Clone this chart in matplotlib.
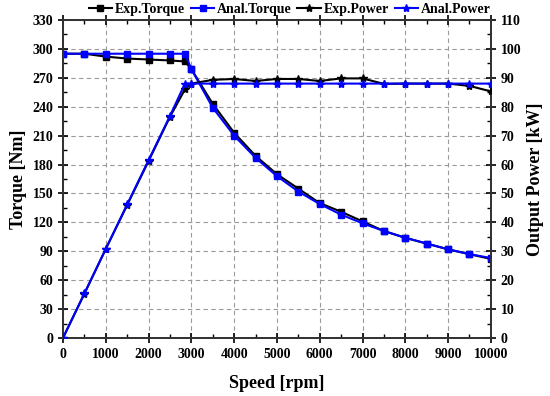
import numpy as np
import matplotlib
matplotlib.use("Agg")
import matplotlib.pyplot as plt
from matplotlib.ticker import MultipleLocator

plt.rcParams['font.family'] = ['Liberation Serif', 'DejaVu Serif']
plt.rcParams['font.weight'] = 'bold'

# speed points [rpm]
speed = [0, 500, 1000, 1500, 2000, 2500, 2850, 3000, 3500, 4000, 4500, 5000,
         5500, 6000, 6500, 7000, 7500, 8000, 8500, 9000, 9500, 10000]

exp_torque = [295, 295, 292, 290, 289, 288, 287, 279, 243, 213, 189, 170,
              155, 140, 131, 121, 111, 104, 98, 92, 87, 82]
anal_torque = [295, 295, 295, 295, 295, 295, 295, 279, 239, 210, 187, 168,
               152, 139, 128, 119, 111, 104, 98, 92, 87, 83]
exp_power = [0, 15.3, 30.8, 46, 61.2, 76.5, 86, 88, 89.3, 89.6, 88.9, 89.6,
             89.6, 88.9, 89.8, 89.8, 87.9, 88, 88, 88, 87.2, 85.3]
anal_power = [0, 15.4, 30.8, 46.2, 61.5, 76.8, 88, 88, 88, 88, 88, 88,
              88, 88, 88, 88, 88, 88, 88, 88, 88, 88]

fig = plt.figure(figsize=(5.5, 3.96), dpi=100)
ax = fig.add_axes([0.1145, 0.1465, 0.778, 0.803])
ax2 = ax.twinx()

l1, = ax.plot(speed, exp_torque, color='black', marker='s', ms=5, lw=1.5, label='Exp.Torque', zorder=3)
l2, = ax.plot(speed, anal_torque, color='#0000ff', marker='s', ms=5, lw=1.5, label='Anal.Torque', zorder=4)
l3, = ax2.plot(speed, exp_power, color='black', marker='*', ms=6, lw=1.5, label='Exp.Power', zorder=3)
l4, = ax2.plot(speed, anal_power, color='#0000ff', marker='*', ms=6, lw=1.5, label='Anal.Power', zorder=4)

ax.set_xlim(0, 10000)
ax.set_ylim(0, 330)
ax2.set_ylim(0, 110)
ax.xaxis.set_major_locator(MultipleLocator(1000))
ax.xaxis.set_minor_locator(MultipleLocator(500))
ax.yaxis.set_major_locator(MultipleLocator(30))
ax.yaxis.set_minor_locator(MultipleLocator(15))
ax2.yaxis.set_major_locator(MultipleLocator(10))
ax2.yaxis.set_minor_locator(MultipleLocator(5))

ax.grid(True, which='major', ls=(0, (4, 3)), color='#999999', lw=0.8)
ax.tick_params(which='major', direction='inout', length=7, width=1.2, labelsize=10, top=True)
ax.tick_params(which='minor', direction='in', length=3, width=1.0, top=True)
ax2.tick_params(which='major', direction='inout', length=7, width=1.2, labelsize=10)
ax2.tick_params(which='minor', direction='in', length=3, width=1.0)
for a in (ax, ax2):
    for s in a.spines.values():
        s.set_linewidth(1.3)
        s.set_color('#333333')

ax.set_xlabel('Speed [rpm]', fontsize=13, fontweight='bold', labelpad=10)
ax.set_ylabel('Torque [Nm]', fontsize=13, fontweight='bold')
ax2.set_ylabel('Output Power [kW]', fontsize=13, fontweight='bold')

ax.legend(handles=[l1, l2, l3, l4], loc='lower right', bbox_to_anchor=(1.0, 1.012),
          ncol=4, frameon=False, fontsize=10, handlelength=1.7, columnspacing=0.4,
          handletextpad=0.2, borderaxespad=0, borderpad=0)

fig.savefig('out.png', dpi=100)
